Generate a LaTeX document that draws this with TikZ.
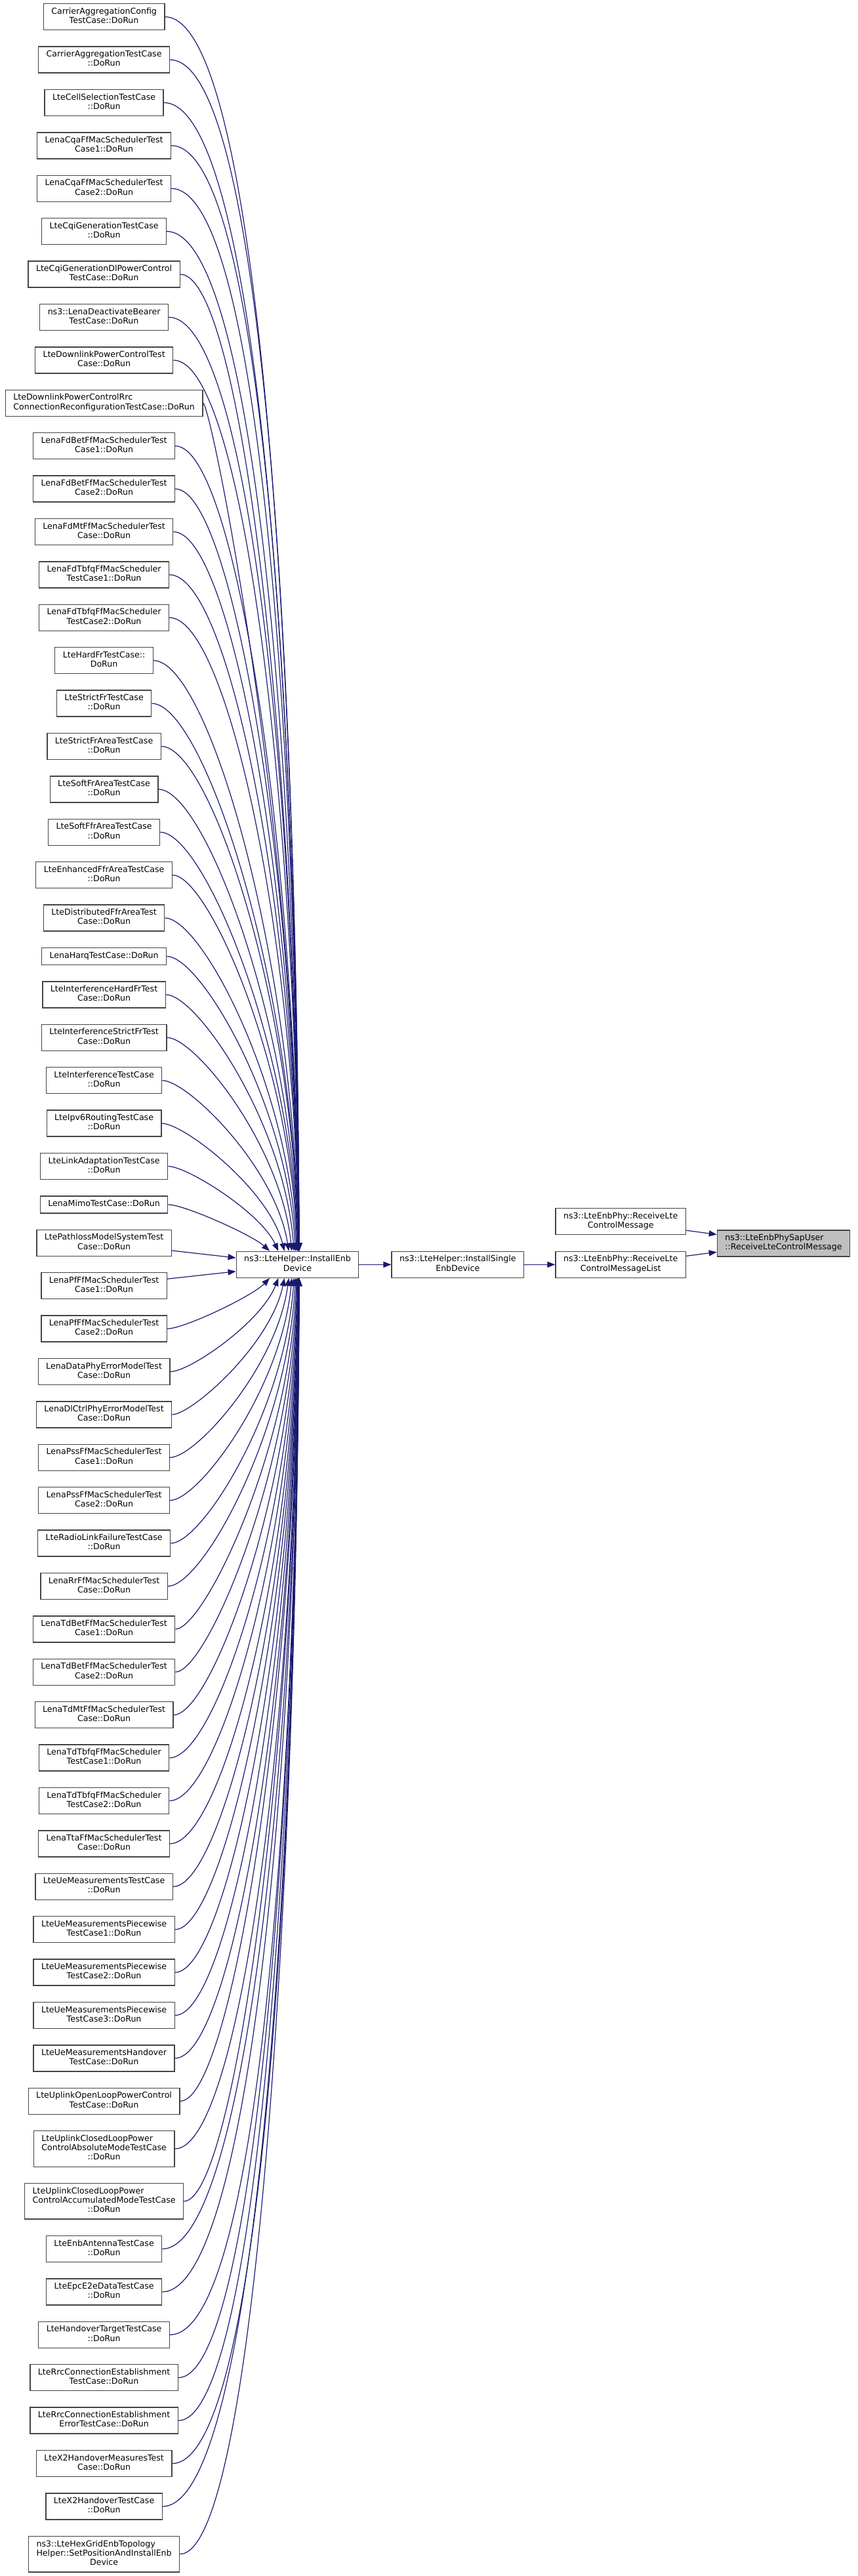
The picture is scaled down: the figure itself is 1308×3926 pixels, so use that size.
\documentclass[tikz,border=0pt]{standalone}
\usepackage{fontspec}
\setmainfont{DejaVu Sans}
\usepackage{calc}
\usetikzlibrary{arrows.meta}
\definecolor{boxc}{HTML}{444444}
\definecolor{edgec}{HTML}{191970}
\definecolor{grayfill}{HTML}{BFBFBF}
\newcommand\nodefont{\fontsize{12.6pt}{14.1pt}\selectfont}
\newcommand\leftto[2]{\makebox[\widthof{#2}][l]{#1}}
\newdimen\mxs \newdimen\mys \newdimen\mex \newdimen\mey
\tikzset{
  nbox/.style={draw=boxc, line width=1.3pt, fill=white, inner xsep=12pt, inner ysep=0pt,
    align=center, font=\nodefont, execute at begin node=\strut, execute at end node=\strut},
  h1/.style={nbox, minimum height=26pt},
  h2/.style={nbox, minimum height=40pt},
  h3/.style={nbox, minimum height=54.5pt},
  callarrow/.style={draw=edgec, line width=1.2pt, -{Triangle[length=12pt,width=9pt]}}
}
\begin{document}
\begin{tikzpicture}[x=1pt,y=-1pt]
\fill[white] (0,0) rectangle (1308,3926);
\useasboundingbox (0,0) rectangle (1308,3926);

\node[h2] (n1) at (158.6,25.7) {CarrierAggregationConfig\\TestCase::DoRun};
\node[h2] (n2) at (158.6,91.1) {CarrierAggregationTestCase\\::DoRun};
\node[h2] (n3) at (158.6,156.5) {LteCellSelectionTestCase\\::DoRun};
\node[h2] (n4) at (158.6,221.9) {LenaCqaFfMacSchedulerTest\\Case1::DoRun};
\node[h2] (n5) at (158.6,287.3) {LenaCqaFfMacSchedulerTest\\Case2::DoRun};
\node[h2] (n6) at (158.6,352.7) {LteCqiGenerationTestCase\\::DoRun};
\node[h2] (n7) at (158.6,418.1) {LteCqiGenerationDlPowerControl\\TestCase::DoRun};
\node[h2] (n8) at (158.6,483.5) {ns3::LenaDeactivateBearer\\TestCase::DoRun};
\node[h2] (n9) at (158.6,548.9) {LteDownlinkPowerControlTest\\Case::DoRun};
\node[h2,align=left] (n10) at (158.6,614.3) {LteDownlinkPowerControlRrc\\ConnectionReconfigurationTestCase::DoRun};
\node[h2] (n11) at (158.6,679.7) {LenaFdBetFfMacSchedulerTest\\Case1::DoRun};
\node[h2] (n12) at (158.6,745.1) {LenaFdBetFfMacSchedulerTest\\Case2::DoRun};
\node[h2] (n13) at (158.6,810.5) {LenaFdMtFfMacSchedulerTest\\Case::DoRun};
\node[h2] (n14) at (158.6,875.9) {LenaFdTbfqFfMacScheduler\\TestCase1::DoRun};
\node[h2] (n15) at (158.6,941.3) {LenaFdTbfqFfMacScheduler\\TestCase2::DoRun};
\node[h2] (n16) at (158.6,1006.7) {LteHardFrTestCase::\\DoRun};
\node[h2] (n17) at (158.6,1072.1) {LteStrictFrTestCase\\::DoRun};
\node[h2] (n18) at (158.6,1137.5) {LteStrictFrAreaTestCase\\::DoRun};
\node[h2] (n19) at (158.6,1202.9) {LteSoftFrAreaTestCase\\::DoRun};
\node[h2] (n20) at (158.6,1268.3) {LteSoftFfrAreaTestCase\\::DoRun};
\node[h2] (n21) at (158.6,1333.7) {LteEnhancedFfrAreaTestCase\\::DoRun};
\node[h2] (n22) at (158.6,1399.1) {LteDistributedFfrAreaTest\\Case::DoRun};
\node[h1] (n23) at (158.6,1457.5) {LenaHarqTestCase::DoRun};
\node[h2] (n24) at (158.6,1515.9) {LteInterferenceHardFrTest\\Case::DoRun};
\node[h2] (n25) at (158.6,1581.3) {LteInterferenceStrictFrTest\\Case::DoRun};
\node[h2] (n26) at (158.6,1646.7) {LteInterferenceTestCase\\::DoRun};
\node[h2] (n27) at (158.6,1712.1) {LteIpv6RoutingTestCase\\::DoRun};
\node[h2] (n28) at (158.6,1777.5) {LteLinkAdaptationTestCase\\::DoRun};
\node[h1] (n29) at (158.6,1835.9) {LenaMimoTestCase::DoRun};
\node[h2] (n30) at (158.6,1894.3) {LtePathlossModelSystemTest\\Case::DoRun};
\node[h2] (n31) at (158.6,1959.7) {LenaPfFfMacSchedulerTest\\Case1::DoRun};
\node[h2] (n32) at (158.6,2025.1) {LenaPfFfMacSchedulerTest\\Case2::DoRun};
\node[h2] (n33) at (158.6,2090.5) {LenaDataPhyErrorModelTest\\Case::DoRun};
\node[h2] (n34) at (158.6,2155.9) {LenaDlCtrlPhyErrorModelTest\\Case::DoRun};
\node[h2] (n35) at (158.6,2221.3) {LenaPssFfMacSchedulerTest\\Case1::DoRun};
\node[h2] (n36) at (158.6,2286.7) {LenaPssFfMacSchedulerTest\\Case2::DoRun};
\node[h2] (n37) at (158.6,2352.1) {LteRadioLinkFailureTestCase\\::DoRun};
\node[h2] (n38) at (158.6,2417.5) {LenaRrFfMacSchedulerTest\\Case::DoRun};
\node[h2] (n39) at (158.6,2482.9) {LenaTdBetFfMacSchedulerTest\\Case1::DoRun};
\node[h2] (n40) at (158.6,2548.3) {LenaTdBetFfMacSchedulerTest\\Case2::DoRun};
\node[h2] (n41) at (158.6,2613.7) {LenaTdMtFfMacSchedulerTest\\Case::DoRun};
\node[h2] (n42) at (158.6,2679.1) {LenaTdTbfqFfMacScheduler\\TestCase1::DoRun};
\node[h2] (n43) at (158.6,2744.5) {LenaTdTbfqFfMacScheduler\\TestCase2::DoRun};
\node[h2] (n44) at (158.6,2809.9) {LenaTtaFfMacSchedulerTest\\Case::DoRun};
\node[h2] (n45) at (158.6,2875.3) {LteUeMeasurementsTestCase\\::DoRun};
\node[h2] (n46) at (158.6,2940.7) {LteUeMeasurementsPiecewise\\TestCase1::DoRun};
\node[h2] (n47) at (158.6,3006.1) {LteUeMeasurementsPiecewise\\TestCase2::DoRun};
\node[h2] (n48) at (158.6,3071.5) {LteUeMeasurementsPiecewise\\TestCase3::DoRun};
\node[h2] (n49) at (158.6,3136.9) {LteUeMeasurementsHandover\\TestCase::DoRun};
\node[h2] (n50) at (158.6,3202.3) {LteUplinkOpenLoopPowerControl\\TestCase::DoRun};
\node[h3] (n51) at (158.6,3274.95) {\leftto{LteUplinkClosedLoopPower}{ControlAbsoluteModeTestCase}\\ControlAbsoluteModeTestCase\\::DoRun};
\node[h3] (n52) at (158.6,3354.85) {\leftto{LteUplinkClosedLoopPower}{ControlAccumulatedModeTestCase}\\ControlAccumulatedModeTestCase\\::DoRun};
\node[h2] (n53) at (158.6,3427.5) {LteEnbAntennaTestCase\\::DoRun};
\node[h2] (n54) at (158.6,3492.9) {LteEpcE2eDataTestCase\\::DoRun};
\node[h2] (n55) at (158.6,3558.3) {LteHandoverTargetTestCase\\::DoRun};
\node[h2] (n56) at (158.6,3623.7) {LteRrcConnectionEstablishment\\TestCase::DoRun};
\node[h2] (n57) at (158.6,3689.1) {LteRrcConnectionEstablishment\\ErrorTestCase::DoRun};
\node[h2] (n58) at (158.6,3754.5) {LteX2HandoverMeasuresTest\\Case::DoRun};
\node[h2] (n59) at (158.6,3819.9) {LteX2HandoverTestCase\\::DoRun};
\node[h3] (n60) at (158.6,3892.55) {\leftto{ns3::LteHexGridEnbTopology}{Helper::SetPositionAndInstallEnb}\\Helper::SetPositionAndInstallEnb\\Device};

\node[h2] (ie) at (453.5,1927.3) {ns3::LteHelper::InstallEnb\\Device};
\node[h2] (is) at (697.8,1927.3) {ns3::LteHelper::InstallSingle\\EnbDevice};
\node[h2] (rl) at (946.2,1927.3) {ns3::LteEnbPhy::ReceiveLte\\ControlMessageList};
\node[h2] (rm) at (946.2,1861.8) {ns3::LteEnbPhy::ReceiveLte\\ControlMessage};
\node[h2,align=left,fill=grayfill] (sap) at (1194.5,1895) {ns3::LteEnbPhySapUser\\::ReceiveLteControlMessage};

\draw[callarrow] (ie) -- (is);
\draw[callarrow] (is) -- (rl);
\draw[callarrow] (rm) -- (sap);
\draw[callarrow] (rl) -- (sap);

\draw[callarrow] (n30) -- ([yshift=10.3pt]ie.west);
\draw[callarrow] (n31) -- ([yshift=-10.4pt]ie.west);

% callers above InstallEnb
\foreach \i in {1,...,29}{
  \pgfextractx{\mxs}{\pgfpointanchor{n\i}{east}}
  \pgfextracty{\mys}{\pgfpointanchor{n\i}{east}}
  \pgfextractx{\mex}{\pgfpointanchor{ie}{north west}}
  \pgfextracty{\mey}{\pgfpointanchor{ie}{north west}}
  \pgfmathsetmacro\Exs{\mxs}
  \pgfmathsetmacro\Eys{\mys}
  \pgfmathsetmacro\Eexw{\mex}
  \pgfmathsetmacro\Eey{\mey}
  \pgfmathsetmacro\Er{29-\i}
  \pgfmathsetmacro\Eex{411+45*(1-exp(-0.35*\Er))}
  \pgfmathsetmacro\Edx{\Eex-\Eexw}
  \pgfmathsetmacro\Ed{\Eys-\Eey}
  \pgfmathsetmacro\Ea{max(12,min(0.07*\Ed+20,140)-max(0,2*(\Exs-260)))}
  \pgfmathsetmacro\Epx{\Exs+\Ea}
  \pgfmathsetmacro\Eux{(\Eex-\Exs)*70/(70+\Ed)}
  \pgfmathsetmacro\Eang{atan2(\Ed,\Eux)}
  \pgfmathsetmacro\EL{0.5*\Ed}
  \pgfmathsetmacro\Ecx{\Eex-\EL*cos(\Eang)}
  \pgfmathsetmacro\Ecy{\Eey+\EL*sin(\Eang)}
  \draw[callarrow] (n\i) .. controls (\Epx pt,\Eys pt) and (\Ecx pt,\Ecy pt) .. ([xshift=\Edx pt]ie.north west);
}

% callers below InstallEnb
\foreach \i in {32,...,60}{
  \pgfextractx{\mxs}{\pgfpointanchor{n\i}{east}}
  \pgfextracty{\mys}{\pgfpointanchor{n\i}{east}}
  \pgfextractx{\mex}{\pgfpointanchor{ie}{south west}}
  \pgfextracty{\mey}{\pgfpointanchor{ie}{south west}}
  \pgfmathsetmacro\Exs{\mxs}
  \pgfmathsetmacro\Eys{\mys}
  \pgfmathsetmacro\Eexw{\mex}
  \pgfmathsetmacro\Eey{\mey}
  \pgfmathsetmacro\Er{\i-32}
  \pgfmathsetmacro\Eex{411+45*(1-exp(-0.35*\Er))}
  \pgfmathsetmacro\Edx{\Eex-\Eexw}
  \pgfmathsetmacro\Ed{\Eey-\Eys}
  \pgfmathsetmacro\Ea{max(12,min(0.07*\Ed+20,140)-max(0,2*(\Exs-260)))}
  \pgfmathsetmacro\Epx{\Exs+\Ea}
  \pgfmathsetmacro\Eux{(\Eex-\Exs)*70/(70+\Ed)}
  \pgfmathsetmacro\Eang{atan2(\Ed,\Eux)}
  \pgfmathsetmacro\EL{0.5*\Ed}
  \pgfmathsetmacro\Ecx{\Eex-\EL*cos(\Eang)}
  \pgfmathsetmacro\Ecy{\Eey-\EL*sin(\Eang)}
  \draw[callarrow] (n\i) .. controls (\Epx pt,\Eys pt) and (\Ecx pt,\Ecy pt) .. ([xshift=\Edx pt]ie.south west);
}
\end{tikzpicture}
\end{document}
